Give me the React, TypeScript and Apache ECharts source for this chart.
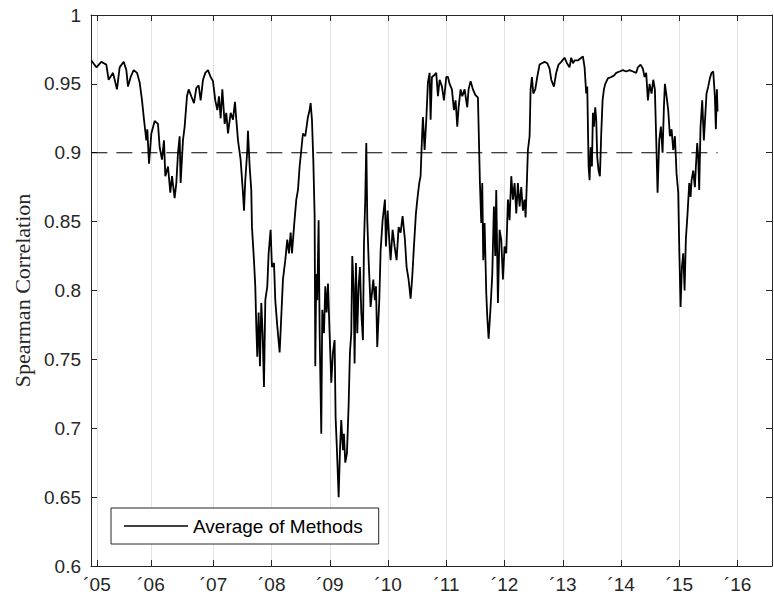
import React, { useEffect, useRef } from "react";
import * as echarts from "echarts";

// fractional year of each observation
const dates: number[] = [
  2004.903, 2004.989, 2005.074, 2005.16, 2005.2, 2005.275, 2005.343, 2005.389, 2005.458, 2005.504,
  2005.532, 2005.578, 2005.63, 2005.687, 2005.733, 2005.773, 2005.807, 2005.847, 2005.864, 2005.893,
  2005.933, 2005.99, 2006.047, 2006.076, 2006.116, 2006.15, 2006.173, 2006.219, 2006.259, 2006.288,
  2006.333, 2006.362, 2006.391, 2006.419, 2006.436, 2006.476, 2006.505, 2006.545, 2006.574, 2006.619,
  2006.665, 2006.705, 2006.745, 2006.78, 2006.82, 2006.86, 2006.906, 2006.951, 2006.991, 2007.031,
  2007.066, 2007.094, 2007.123, 2007.152, 2007.192, 2007.22, 2007.249, 2007.295, 2007.335, 2007.369,
  2007.392, 2007.421, 2007.466, 2007.506, 2007.524, 2007.546, 2007.581, 2007.592, 2007.621, 2007.649,
  2007.661, 2007.695, 2007.718, 2007.735, 2007.752, 2007.775, 2007.798, 2007.821, 2007.844, 2007.867,
  2007.89, 2007.924, 2007.947, 2007.981, 2008.004, 2008.039, 2008.061, 2008.096, 2008.136, 2008.164,
  2008.193, 2008.233, 2008.267, 2008.296, 2008.325, 2008.348, 2008.382, 2008.422, 2008.451, 2008.479,
  2008.508, 2008.536, 2008.576, 2008.599, 2008.622, 2008.651, 2008.668, 2008.691, 2008.714, 2008.737,
  2008.748, 2008.765, 2008.782, 2008.805, 2008.823, 2008.851, 2008.868, 2008.897, 2008.92, 2008.943,
  2008.966, 2008.994, 2009.023, 2009.051, 2009.08, 2009.097, 2009.12, 2009.149, 2009.172, 2009.194,
  2009.223, 2009.24, 2009.263, 2009.292, 2009.32, 2009.343, 2009.366, 2009.383, 2009.406, 2009.423,
  2009.446, 2009.469, 2009.492, 2009.515, 2009.538, 2009.566, 2009.584, 2009.606, 2009.624, 2009.641,
  2009.664, 2009.698, 2009.744, 2009.772, 2009.79, 2009.812, 2009.847, 2009.87, 2009.904, 2009.944,
  2009.961, 2009.99, 2010.018, 2010.041, 2010.076, 2010.11, 2010.144, 2010.179, 2010.213, 2010.247,
  2010.287, 2010.316, 2010.35, 2010.385, 2010.413, 2010.442, 2010.476, 2010.505, 2010.533, 2010.556,
  2010.574, 2010.596, 2010.625, 2010.654, 2010.682, 2010.711, 2010.728, 2010.751, 2010.785, 2010.825,
  2010.854, 2010.883, 2010.923, 2010.957, 2010.997, 2011.026, 2011.054, 2011.094, 2011.129, 2011.157,
  2011.186, 2011.209, 2011.243, 2011.272, 2011.312, 2011.357, 2011.38, 2011.415, 2011.455, 2011.495,
  2011.541, 2011.558, 2011.575, 2011.598, 2011.615, 2011.632, 2011.655, 2011.684, 2011.701, 2011.724,
  2011.758, 2011.787, 2011.815, 2011.838, 2011.855, 2011.884, 2011.913, 2011.941, 2011.97, 2011.998,
  2012.027, 2012.056, 2012.084, 2012.113, 2012.142, 2012.17, 2012.199, 2012.227, 2012.256, 2012.285,
  2012.313, 2012.342, 2012.359, 2012.382, 2012.399, 2012.428, 2012.445, 2012.468, 2012.491, 2012.525,
  2012.559, 2012.599, 2012.639, 2012.685, 2012.731, 2012.771, 2012.8, 2012.845, 2012.885, 2012.925,
  2012.971, 2013.028, 2013.069, 2013.114, 2013.143, 2013.172, 2013.2, 2013.257, 2013.315, 2013.343,
  2013.372, 2013.4, 2013.418, 2013.441, 2013.458, 2013.475, 2013.498, 2013.515, 2013.532, 2013.555,
  2013.572, 2013.589, 2013.612, 2013.635, 2013.658, 2013.681, 2013.704, 2013.727, 2013.772, 2013.83,
  2013.875, 2013.915, 2013.973, 2014.03, 2014.087, 2014.144, 2014.202, 2014.259, 2014.287, 2014.333,
  2014.373, 2014.402, 2014.43, 2014.459, 2014.488, 2014.522, 2014.551, 2014.579, 2014.608, 2014.625,
  2014.654, 2014.682, 2014.711, 2014.734, 2014.751, 2014.78, 2014.808, 2014.837, 2014.866, 2014.894,
  2014.923, 2014.951, 2014.98, 2014.997, 2015.02, 2015.043, 2015.066, 2015.089, 2015.111, 2015.14,
  2015.169, 2015.192, 2015.209, 2015.237, 2015.266, 2015.283, 2015.306, 2015.323, 2015.34, 2015.363,
  2015.392, 2015.42, 2015.443, 2015.466, 2015.495, 2015.523, 2015.552, 2015.581, 2015.609, 2015.626,
  2015.644, 2015.655,
];

// average Spearman correlation of the methods
const values: number[] = [
  0.967, 0.962, 0.966, 0.964, 0.953, 0.958, 0.946, 0.962, 0.966, 0.96,
  0.948, 0.955, 0.96, 0.958, 0.951, 0.938, 0.924, 0.909, 0.917, 0.892,
  0.914, 0.923, 0.921, 0.904, 0.895, 0.909, 0.883, 0.89, 0.871, 0.883,
  0.867, 0.878, 0.9, 0.912, 0.878, 0.909, 0.919, 0.941, 0.946, 0.941,
  0.936, 0.947, 0.949, 0.938, 0.953, 0.958, 0.96, 0.955, 0.952, 0.938,
  0.931, 0.941, 0.925, 0.946, 0.921, 0.929, 0.914, 0.929, 0.924, 0.937,
  0.924, 0.909, 0.895, 0.871, 0.858, 0.88, 0.902, 0.916, 0.89, 0.873,
  0.846, 0.822, 0.803, 0.774, 0.752, 0.784, 0.745, 0.791, 0.769, 0.73,
  0.793, 0.803, 0.827, 0.844, 0.817, 0.82, 0.793, 0.774, 0.755, 0.781,
  0.808, 0.822, 0.837, 0.827, 0.842, 0.827, 0.846, 0.866, 0.873, 0.89,
  0.902, 0.914, 0.912, 0.919, 0.926, 0.931, 0.936, 0.924, 0.895, 0.854,
  0.745, 0.812, 0.793, 0.851, 0.769, 0.696, 0.786, 0.769, 0.803, 0.784,
  0.805, 0.769, 0.733, 0.755, 0.764, 0.708, 0.684, 0.65, 0.684, 0.706,
  0.684, 0.696, 0.675, 0.682, 0.716, 0.755, 0.769, 0.825, 0.803, 0.747,
  0.82, 0.769, 0.803, 0.817, 0.784, 0.764, 0.834, 0.866, 0.907, 0.851,
  0.822, 0.788, 0.808, 0.793, 0.803, 0.759, 0.793, 0.829, 0.851, 0.866,
  0.832, 0.858, 0.837, 0.822, 0.844, 0.832, 0.822, 0.846, 0.842, 0.854,
  0.837, 0.817, 0.808, 0.794, 0.81, 0.832, 0.856, 0.868, 0.878, 0.883,
  0.904, 0.926, 0.902, 0.924, 0.951, 0.958, 0.924, 0.955, 0.956, 0.958,
  0.941, 0.953, 0.948, 0.938, 0.955, 0.955, 0.95, 0.946, 0.931, 0.938,
  0.919, 0.933, 0.946, 0.941, 0.946, 0.933, 0.946, 0.952, 0.946, 0.942,
  0.94, 0.909, 0.878, 0.849, 0.878, 0.822, 0.849, 0.798, 0.781, 0.765,
  0.788, 0.812, 0.861, 0.825, 0.873, 0.791, 0.844, 0.837, 0.808, 0.832,
  0.827, 0.866, 0.851, 0.883, 0.866, 0.878, 0.856, 0.878, 0.861, 0.875,
  0.858, 0.866, 0.853, 0.88, 0.902, 0.912, 0.946, 0.955, 0.943, 0.946,
  0.955, 0.964, 0.965, 0.966, 0.965, 0.961, 0.953, 0.948, 0.958, 0.964,
  0.966, 0.969, 0.965, 0.962, 0.969, 0.965, 0.967, 0.967, 0.969, 0.97,
  0.962, 0.943, 0.948, 0.89, 0.88, 0.904, 0.89, 0.929, 0.919, 0.933,
  0.924, 0.897, 0.887, 0.883, 0.914, 0.938, 0.946, 0.95, 0.954, 0.955,
  0.956, 0.958, 0.959, 0.96, 0.959, 0.96, 0.959, 0.958, 0.962, 0.964,
  0.961, 0.955, 0.958, 0.938, 0.95, 0.943, 0.953, 0.946, 0.9, 0.871,
  0.909, 0.919, 0.9, 0.933, 0.95, 0.941, 0.931, 0.912, 0.917, 0.902,
  0.912, 0.885, 0.871, 0.832, 0.788, 0.817, 0.827, 0.8, 0.837, 0.856,
  0.878, 0.868, 0.88, 0.887, 0.875, 0.89, 0.907, 0.897, 0.873, 0.919,
  0.938, 0.909, 0.926, 0.943, 0.948, 0.954, 0.958, 0.959, 0.941, 0.917,
  0.946, 0.93,
];

const threshold = 0.9;

const yearTicks: number[] = [
  2005, 2005.927, 2007, 2008, 2009, 2010, 2011, 2012, 2013, 2014, 2015, 2016,
];
const yearLabels: string[] = [
  "´05", "´06", "´07", "´08", "´09", "´10", "´11", "´12", "´13", "´14", "´15", "´16",
];

const seriesName = "Average of Methods";
const yAxisName = "Spearman Correlation";

export default function App() {
  const ref = useRef<HTMLDivElement>(null);

  useEffect(() => {
    if (!ref.current) return;
    const chart = echarts.init(ref.current, null, { renderer: "svg" });
    const axisColor = "#262626";
    const lineData = dates.map((d, i) => [d, values[i]]);
    const thresholdData = [
      [dates[0], threshold],
      [dates[dates.length - 1], threshold],
    ];
    const labelFor = (v: number) => {
      const i = yearTicks.findIndex((t) => Math.abs(t - v) < 1e-6);
      return i >= 0 ? yearLabels[i] : "";
    };
    const xMin = 2004.897;
    const xMax = 2016.59;

    chart.setOption({
      animation: false,
      backgroundColor: "#ffffff",
      grid: { left: 91, top: 15, right: 2, bottom: 34 },
      xAxis: [
        {
          type: "value",
          min: xMin,
          max: xMax,
          position: "bottom",
          axisLine: { show: true, onZero: false, lineStyle: { color: axisColor, width: 1 } },
          axisTick: {
            show: true,
            inside: true,
            length: 6,
            customValues: yearTicks,
            lineStyle: { color: axisColor, width: 1 },
          },
          axisLabel: {
            customValues: yearTicks,
            formatter: labelFor,
            fontSize: 19,
            color: axisColor,
            fontFamily: "Liberation Sans",
            margin: 9,
          },
          splitLine: { show: true, lineStyle: { color: "#e3e3e3", width: 1 } },
        },
        {
          type: "value",
          min: xMin,
          max: xMax,
          position: "top",
          axisLine: { show: true, onZero: false, lineStyle: { color: axisColor, width: 1 } },
          axisTick: {
            show: true,
            inside: true,
            length: 6,
            customValues: yearTicks,
            lineStyle: { color: axisColor, width: 1 },
          },
          axisLabel: { show: false },
          splitLine: { show: false },
        },
      ],
      yAxis: [
        {
          type: "value",
          min: 0.6,
          max: 1,
          interval: 0.05,
          position: "left",
          axisLine: { show: true, onZero: false, lineStyle: { color: axisColor, width: 1 } },
          axisTick: { show: true, inside: true, length: 6, lineStyle: { color: axisColor, width: 1 } },
          axisLabel: {
            fontSize: 19,
            color: axisColor,
            fontFamily: "Liberation Sans",
            margin: 10,
          },
          splitLine: { show: false },
          name: yAxisName,
          nameLocation: "middle",
          nameGap: 56,
          nameTextStyle: { fontFamily: "Liberation Serif", fontSize: 22, color: axisColor },
        },
        {
          type: "value",
          min: 0.6,
          max: 1,
          interval: 0.05,
          position: "right",
          axisLine: { show: true, onZero: false, lineStyle: { color: axisColor, width: 1 } },
          axisTick: { show: true, inside: true, length: 6, lineStyle: { color: axisColor, width: 1 } },
          axisLabel: { show: false },
          splitLine: { show: false },
        },
      ],
      legend: {
        data: [{ name: seriesName, icon: "rect" }],
        left: 111,
        top: 508,
        orient: "horizontal",
        padding: [8, 16, 8, 13],
        itemWidth: 64,
        itemHeight: 1.5,
        borderColor: axisColor,
        borderWidth: 1,
        backgroundColor: "#ffffff",
        selectedMode: false,
        itemStyle: { color: "#000000" },
        textStyle: { fontSize: 19, color: "#000000", fontFamily: "Liberation Sans", lineHeight: 20 },
      },
      series: [
        {
          name: "threshold",
          type: "line",
          data: thresholdData,
          symbol: "none",
          silent: true,
          lineStyle: { color: "#000000", width: 1.2, type: [16, 9] },
          z: 1,
        },
        {
          name: seriesName,
          type: "line",
          data: lineData,
          symbol: "none",
          silent: true,
          itemStyle: { color: "#000000" },
          lineStyle: { color: "#000000", width: 1.8 },
          z: 2,
        },
      ],
    });

    return () => {
      chart.dispose();
    };
  }, []);

  return (
    <div
      ref={ref}
      style={{ position: "fixed", left: 0, top: 0, width: 774, height: 600, background: "#ffffff" }}
    />
  );
}
